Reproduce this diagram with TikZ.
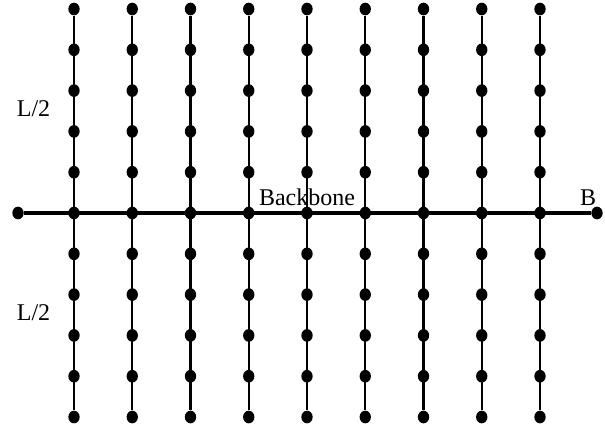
\documentclass[tikz,border=0pt]{standalone}
\usepackage{fontspec}
\setmainfont{Liberation Serif}
\usetikzlibrary{shapes.geometric, positioning}

\begin{document}
\begin{tikzpicture}[x=0.75pt,y=-0.75pt,
	site/.style={ellipse,fill=black,inner sep=0pt,minimum width=8.5pt,minimum height=9.5pt},
	chain/.style={line width=1.6pt},
	spine/.style={line width=3pt},
	lbl/.style={anchor=base,inner sep=0pt,font=\fontsize{18}{21}\selectfont}
]
\useasboundingbox (0,0) rectangle (605,426);

% Backbone
\node[site] (bl) at (18,213) {};
\node[site] (br) at (597,213) {};
\draw[spine] (bl) -- (br);

% Side chains
\foreach \i in {1,...,9} {
	\foreach \j in {-5,...,5} {
		\node[site] (s\i\j) at ({74+58.25*(\i-1)},{213+40.8*\j}) {};
	}
	\draw[chain] (s\i-5) -- (s\i5);
}

% Labels
\node[lbl] (bb) at (307,205) {Backbone};
\node[lbl] (bend) at (588,205) {B};
\node[lbl] (top) at (33.5,116) {L/2};
\node[lbl] (bot) at (33.5,320) {L/2};

\end{tikzpicture}
\end{document}
